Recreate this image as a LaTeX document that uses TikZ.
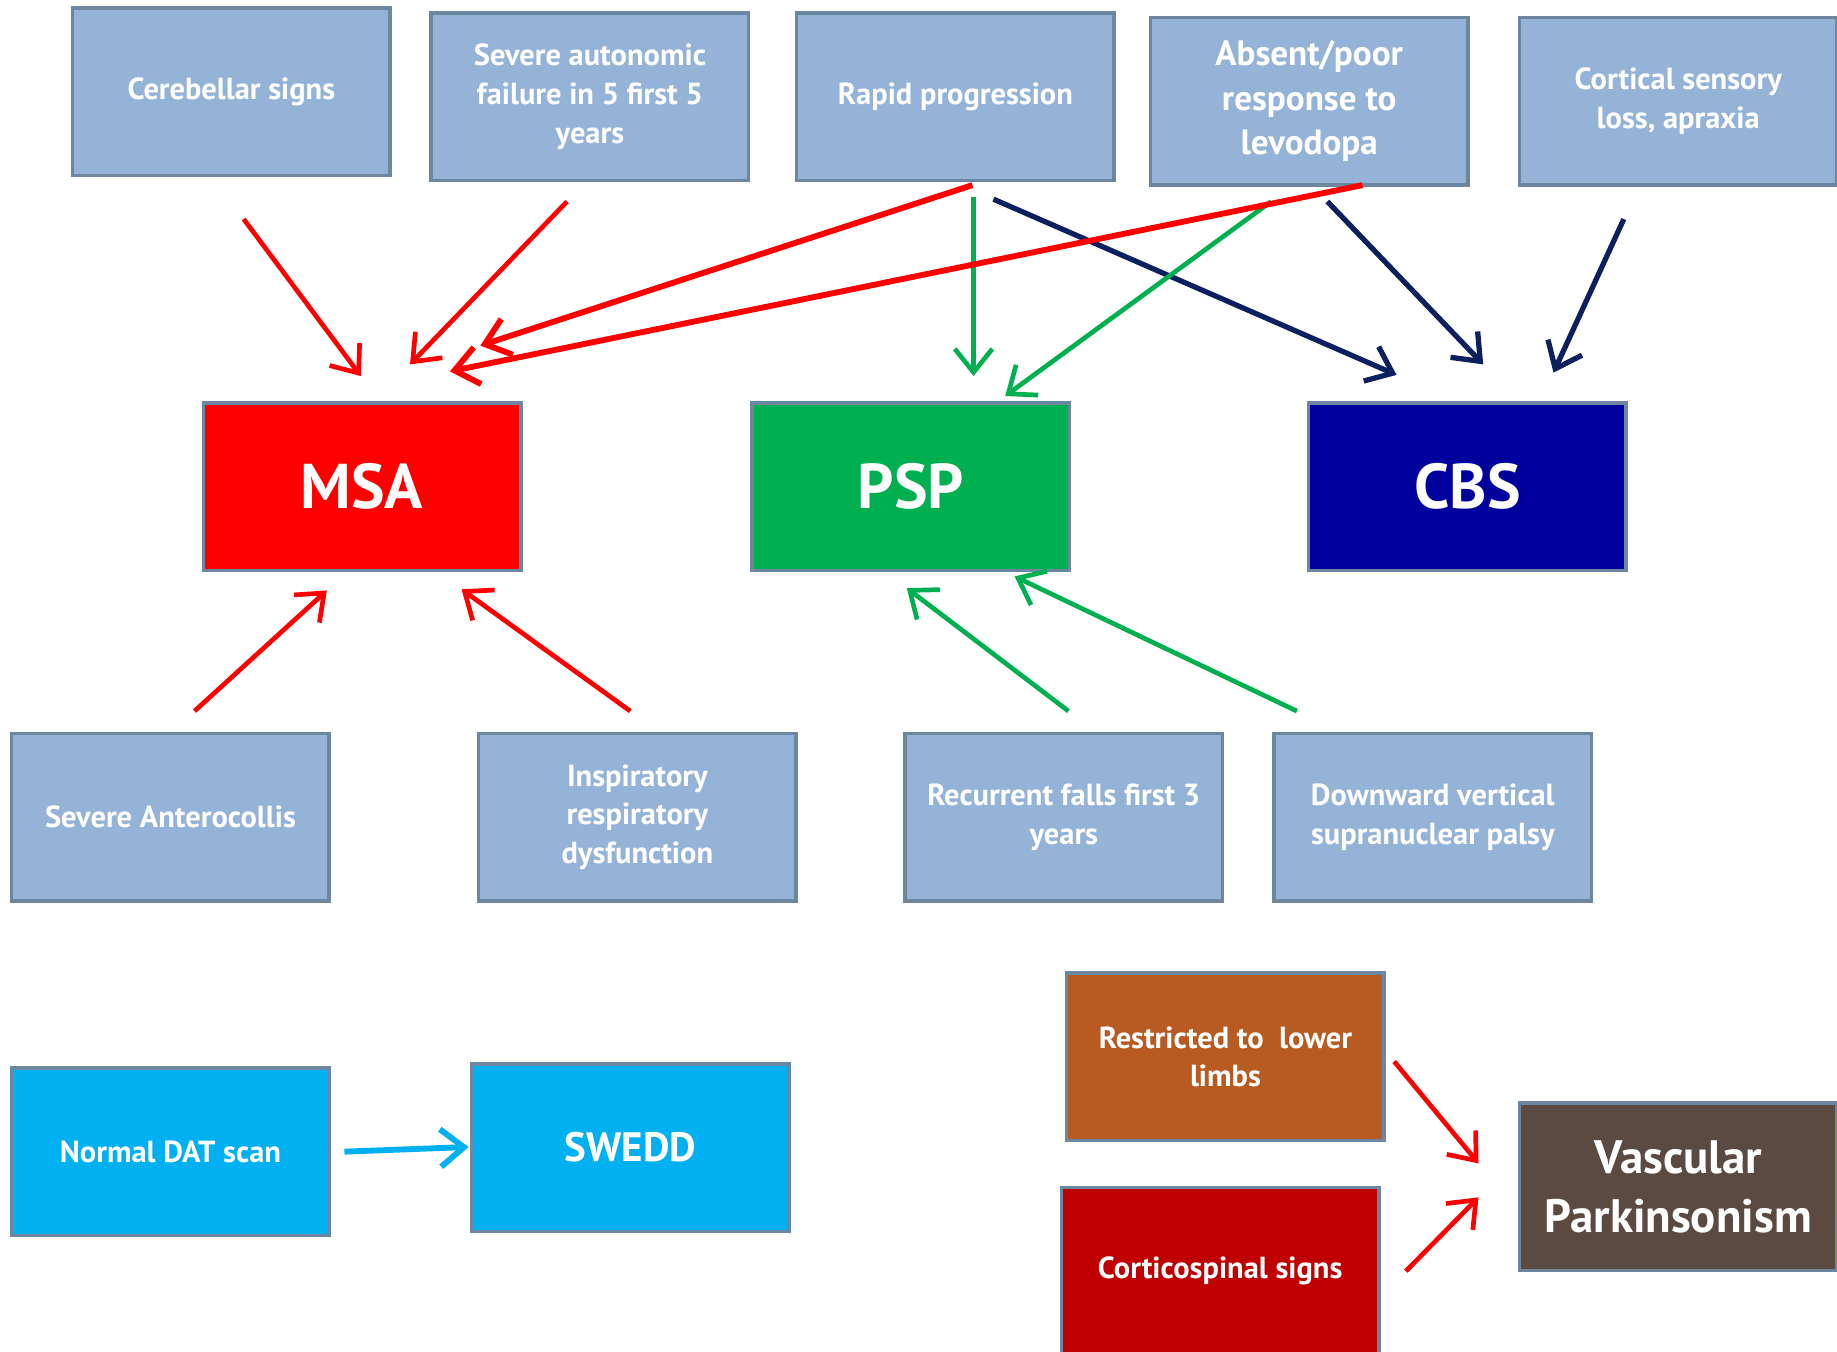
\documentclass[tikz,border=0pt]{standalone}
\usepackage{fontspec}
\setmainfont{PT Sans}
\usetikzlibrary{arrows.meta}
\definecolor{lightc}{HTML}{95B3D7}
\definecolor{bordc}{HTML}{6E87A0}
\definecolor{msac}{HTML}{FF0000}
\definecolor{pspc}{HTML}{00B050}
\definecolor{cbsc}{HTML}{00009C}
\definecolor{navyc}{HTML}{0C2060}
\definecolor{cyanc}{HTML}{00B0F0}
\definecolor{brownc}{HTML}{B85B23}
\definecolor{dredc}{HTML}{C00000}
\definecolor{vascc}{HTML}{5B4A42}
\begin{document}
\begin{tikzpicture}[x=1pt,y=-1pt,
  box/.style={draw=bordc, line width=3pt, minimum width=271pt, minimum height=143pt,
    inner sep=0pt, align=center, text=white, font=\bfseries\fontsize{26}{33}\selectfont},
  light/.style={box, fill=lightc},
  big/.style={font=\bfseries\fontsize{54}{60}\selectfont},
  arr/.style={line width=4pt, -{Straight Barb[length=20pt,width=32pt]}},
  redarr/.style={arr, draw=msac},
  greenarr/.style={arr, draw=pspc},
  navyarr/.style={arr, draw=navyc, line width=4.5pt}]
\useasboundingbox (0,0) rectangle (1568,1154);
\clip (0,0) rectangle (1568,1154);
% top row
\node[light] (cereb) at (197.5,78.5) {Cerebellar signs};
\node[light] (auto) at (503.5,82.5) {Severe autonomic\\failure in 5 first 5\\years};
\node[light] (rapid) at (815.5,82.5) {Rapid progression};
\node[light, font=\bfseries\fontsize{30}{38}\selectfont] (levo) at (1117.5,86.5) {Absent/poor\\response to\\levodopa};
\node[light] (cort) at (1432.5,86.5) {Cortical sensory\\loss, apraxia};
% middle row
\node[box, fill=msac, big] (msa) at (309,415.5) {MSA};
\node[box, fill=pspc, big] (psp) at (777.5,415.5) {PSP};
\node[box, fill=cbsc, big] (cbs) at (1252.5,415.5) {CBS};
% bottom row
\node[light] (ante) at (145.5,697.5) {Severe Anterocollis};
\node[light] (insp) at (544,697.5) {Inspiratory\\respiratory\\dysfunction};
\node[light] (falls) at (908,697.5) {Recurrent falls first 3\\years};
\node[light] (down) at (1223,697.5) {Downward vertical\\supranuclear palsy};
% lower part
\node[box, fill=cyanc] (dat) at (145.5,983) {Normal DAT scan};
\node[box, fill=cyanc, font=\bfseries\fontsize{35}{44}\selectfont] (swedd) at (538,979.5) {SWEDD};
\node[box, fill=brownc] (restr) at (1046,902) {Restricted to\ \ lower\\limbs};
\node[box, fill=dredc] (corti) at (1041.5,1085) {Corticospinal signs};
\node[box, fill=vascc, font=\bfseries\fontsize{40}{50}\selectfont] (vasc) at (1432.5,1013) {Vascular\\Parkinsonism};
% arrow end points
\coordinate (a1s) at (208,187);  \coordinate (a1e) at (308,321);
\coordinate (a2s) at (484,172);  \coordinate (a2e) at (350,311);
\coordinate (a3s) at (830,158);  \coordinate (a3e) at (410,295);
\coordinate (a4s) at (1163,158); \coordinate (a4e) at (384,317);
\coordinate (a5s) at (166,607);  \coordinate (a5e) at (279,504);
\coordinate (a6s) at (538,607);  \coordinate (a6e) at (394,503);
\coordinate (g1s) at (831,168);  \coordinate (g1e) at (831,321);
\coordinate (g2s) at (1085,172); \coordinate (g2e) at (858,338);
\coordinate (g3s) at (912,607);  \coordinate (g3e) at (774,502);
\coordinate (g4s) at (1107,607); \coordinate (g4e) at (866,492);
\coordinate (n1s) at (848,170);  \coordinate (n1e) at (1192,320);
\coordinate (n2s) at (1133,172); \coordinate (n2e) at (1266,311);
\coordinate (n3s) at (1386,187); \coordinate (n3e) at (1326,318);
\coordinate (c1s) at (294,983);  \coordinate (c1e) at (400,979);
\coordinate (v1s) at (1190,906); \coordinate (v1e) at (1262,993);
\coordinate (v2s) at (1200,1085);\coordinate (v2e) at (1262,1022);
% arrows
\draw[greenarr] (g1s) -- (g1e);
\draw[navyarr] (n1s) -- (n1e);
\draw[greenarr] (g2s) -- (g2e);
\draw[navyarr] (n2s) -- (n2e);
\draw[navyarr] (n3s) -- (n3e);
\draw[redarr] (a1s) -- (a1e);
\draw[redarr] (a2s) -- (a2e);
\draw[redarr, line width=5pt] (a3s) -- (a3e);
\draw[redarr, line width=5pt] (a4s) -- (a4e);
\draw[redarr] (a5s) -- (a5e);
\draw[redarr] (a6s) -- (a6e);
\draw[greenarr] (g3s) -- (g3e);
\draw[greenarr] (g4s) -- (g4e);
\draw[arr, draw=cyanc, line width=5pt] (c1s) -- (c1e);
\draw[redarr] (v1s) -- (v1e);
\draw[redarr] (v2s) -- (v2e);
\end{tikzpicture}
\end{document}
